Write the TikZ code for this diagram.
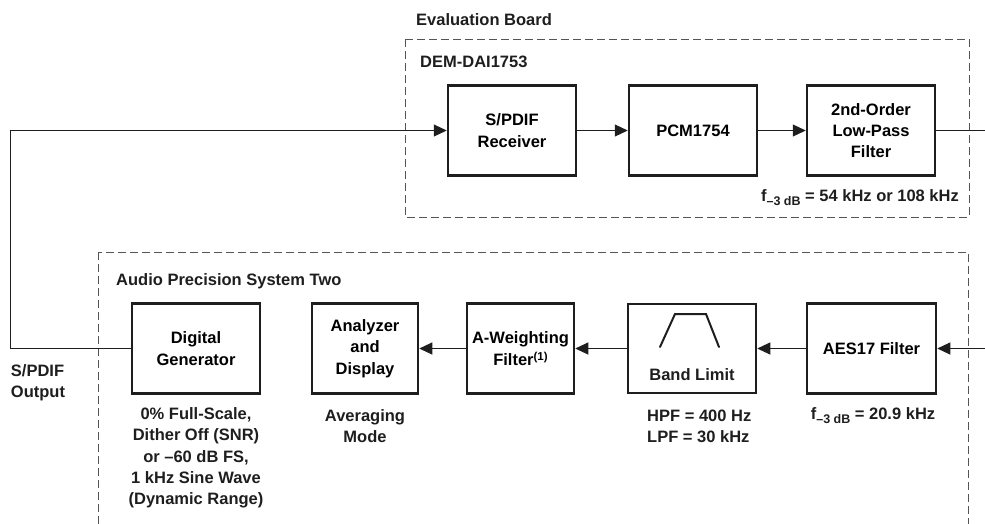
\documentclass[tikz,border=0pt]{standalone}
\usepackage{fontspec}
\setmainfont{Liberation Sans}
\usetikzlibrary{arrows.meta}
\definecolor{ink}{HTML}{1E1E1E}
\definecolor{frame}{HTML}{555555}
\newcommand{\fdb}{f\raisebox{-0.45ex}{\fontsize{12.5}{12.5}\selectfont–3 dB}}
\newcommand{\noteone}{\raisebox{0.55ex}{\fontsize{11.5}{11.5}\selectfont(1)}}
\tikzset{
	blk/.style={draw=ink,line width=2.5pt,minimum width=128pt,minimum height=90pt,
		align=center,inner sep=2pt},
	lbl/.style={text=ink,inner sep=0pt},
	board/.style={draw=frame,line width=1pt,dash pattern=on 8pt off 4pt},
	wire/.style={draw=ink,line width=1pt}
}
\begin{document}
\begin{tikzpicture}[x=1pt,y=-1pt,>={Triangle[length=13pt,width=12pt]},
		every node/.style={font=\bfseries\fontsize{16.5}{21.3}\selectfont}]
		\useasboundingbox (0,0) rectangle (985,523);
		\clip (0,0) rectangle (985,523);
		\draw[board] (405,39) rectangle (969,217);
		\draw[board] (98,252) rectangle (968,560);
		\node[lbl,anchor=west] (evb) at (416,20) {Evaluation Board};
		\node[lbl,anchor=west] (dem) at (420,62) {DEM-DAI1753};
		\node[lbl,anchor=west] (aps) at (116,281) {Audio Precision System Two};
		\node[blk] (rx) at (512,130.5) {S/PDIF\\Receiver};
		\node[blk] (pcm) at (693,130.5) {PCM1754};
		\node[blk] (lpf) at (871,130.5) {2nd-Order\\Low-Pass\\Filter};
		\node[lbl,anchor=east] (lpfnote) at (959,198) {\fdb{} = 54 kHz or 108 kHz};
		\node[blk] (gen) at (196,348.5) {Digital\\Generator};
		\node[blk,minimum width=106pt] (ana) at (365,348.5) {Analyzer\\and\\Display};
		\node[blk,minimum width=107pt] (awt) at (520.5,348.5) {A-Weighting\\Filter\noteone};
		\node[blk,minimum height=89pt] (bl) at (692,348.5) {};
		\node[lbl] (bltext) at (692,375) {Band Limit};
		\draw[ink,line width=2pt,line cap=round] (660,347) -- (675,314) -- (706,314) -- (719,347);
		\node[blk,minimum width=129pt] (aes) at (871.5,348.5) {AES17 Filter};
		\node[lbl,align=left] (out) at (38,383) {S/PDIF\\Output};
		\node[lbl,align=center] (gennote) at (196,458) {0\% Full-Scale,\\Dither Off (SNR)\\or –60 dB FS,\\1 kHz Sine Wave\\(Dynamic Range)};
		\node[lbl,align=center] (ananote) at (365,426) {Averaging\\Mode};
		\node[lbl,align=left,anchor=west] (blnote) at (647,426) {HPF = 400 Hz\\LPF = 30 kHz};
		\node[lbl] (aesnote) at (873,416) {\fdb{} = 20.9 kHz};
		\coordinate (loop) at (10,130.5);
		\coordinate (tpout) at (985,130.5);
		\coordinate (apin) at (985,348.5);
		\draw[wire,->] (gen.west) -| (loop) -- (rx.west);
		\draw[wire,->] (rx) -- (pcm);
		\draw[wire,->] (pcm) -- (lpf);
		\draw[wire] (lpf) -- (tpout);
		\draw[wire,->] (apin) -- (aes);
		\draw[wire,->] (aes) -- (bl);
		\draw[wire,->] (bl) -- (awt);
		\draw[wire,->] (awt) -- (ana);
	\end{tikzpicture}
\end{document}
